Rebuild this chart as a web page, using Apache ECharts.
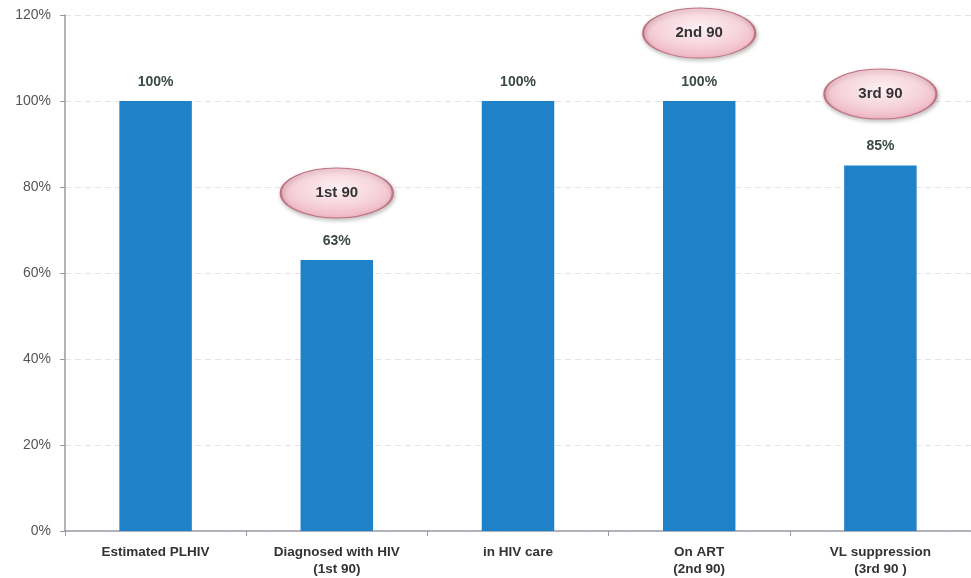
<!DOCTYPE html>
<html><head><meta charset="utf-8">
<script src="https://cdn.jsdelivr.net/npm/echarts@6/dist/echarts.min.js"></script>
<style>html,body{margin:0;padding:0;background:#fff}#c{width:971px;height:578px}</style>
</head><body><div id="c"></div>
<script>
const categories = ['Estimated PLHIV', 'Diagnosed with HIV\n(1st 90)', 'in HIV care', 'On ART\n(2nd 90)', 'VL suppression\n(3rd 90 )'];
const values = [100, 63, 100, 100, 85];
const yTicks = [0, 20, 40, 60, 80, 100, 120];
const badgeLabels = ['1st 90', '2nd 90', '3rd 90'];
const badgeCategory = [1, 3, 4];
const badgeValue = [78.6, 115.8, 101.6];

const chart = echarts.init(document.getElementById('c'));
const ellipseFill = {
  type: 'radial', x: 0.5, y: 0.4, r: 0.6,
  colorStops: [{offset: 0, color: '#fdf0f3'}, {offset: 0.6, color: '#f6d3dc'}, {offset: 1, color: '#eeb5c2'}]
};
chart.setOption({
  animation: false,
  textStyle: {fontFamily: 'Liberation Sans, Arial, sans-serif'},
  grid: {left: 65, right: -4, top: 15, bottom: 47, containLabel: false},
  xAxis: {
    type: 'category', data: categories,
    axisLine: {lineStyle: {color: '#9a9aa6', width: 1.5}},
    axisTick: {show: true, lineStyle: {color: '#9a9aa6'}, length: 5},
    axisLabel: {color: '#333', fontWeight: 'bold', fontSize: 13.5, lineHeight: 17, margin: 13, interval: 0}
  },
  yAxis: {
    type: 'value', min: yTicks[0], max: yTicks[yTicks.length - 1], interval: 20,
    axisLine: {show: true, lineStyle: {color: '#9a9aa6', width: 1.5}},
    axisTick: {show: true, lineStyle: {color: '#9a9aa6'}, length: 5},
    axisLabel: {color: '#555', fontSize: 14, formatter: v => v + '%', margin: 14},
    splitLine: {show: true, lineStyle: {color: '#e2e4ea', type: [6, 4], width: 1}}
  },
  series: [{
    type: 'bar', data: values, barWidth: '40%',
    itemStyle: {color: '#1f81c8'},
    label: {show: true, position: 'top', distance: 12, formatter: p => p.value + '%', color: '#3a4a44', fontWeight: 'bold', fontSize: 14},
    markPoint: {
      symbol: 'circle',
      symbolSize: [112, 50],
      itemStyle: {color: ellipseFill, borderColor: '#c27280', borderWidth: 1.5, shadowColor: 'rgba(0,0,0,0.25)', shadowBlur: 4, shadowOffsetX: 1, shadowOffsetY: 2},
      label: {show: true, position: 'inside', color: '#333', fontWeight: 'bold', fontSize: 15},
      data: badgeLabels.map((t, i) => ({name: t, coord: [badgeCategory[i], badgeValue[i]], label: {formatter: t}}))
    }
  }]
});
</script></body></html>
